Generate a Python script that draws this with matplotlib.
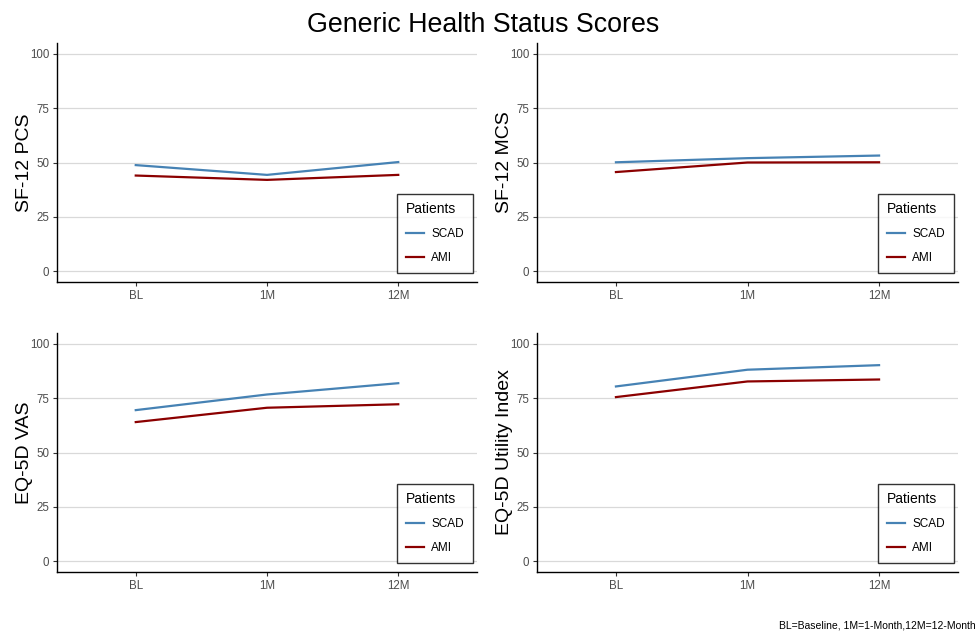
import matplotlib
matplotlib.use("Agg")
import matplotlib.pyplot as plt

plt.rcParams['font.family'] = ['Liberation Sans', 'DejaVu Sans']

timepoints = ["BL", "1M", "12M"]
panel_labels = ["SF-12 PCS", "SF-12 MCS", "EQ-5D VAS", "EQ-5D Utility Index"]
scad_pcs = [48.8, 44.3, 50.2]
ami_pcs = [44.0, 42.0, 44.3]
scad_mcs = [50.1, 52.0, 53.2]
ami_mcs = [45.6, 50.0, 50.1]
scad_vas = [69.5, 76.7, 81.9]
ami_vas = [64.0, 70.6, 72.2]
scad_util = [80.4, 88.1, 90.2]
ami_util = [75.5, 82.7, 83.6]
y_ticks = [0, 25, 50, 75, 100]

scad_color = "#4682B4"
ami_color = "#8B0000"

fig = plt.figure(figsize=(9.77, 6.35), dpi=100)
W, H = 977, 635
boxes = [
    (57, 43, 477, 282),
    (537, 43, 958, 282),
    (57, 333, 477, 572),
    (537, 333, 958, 572),
]
series = [(scad_pcs, ami_pcs), (scad_mcs, ami_mcs), (scad_vas, ami_vas), (scad_util, ami_util)]

for (l, t, r, b), label, (s, a) in zip(boxes, panel_labels, series):
    ax = fig.add_axes([l / W, 1 - b / H, (r - l) / W, (b - t) / H])
    x = list(range(1, len(timepoints) + 1))
    ax.plot(x, s, color=scad_color, lw=1.6, label="SCAD")
    ax.plot(x, a, color=ami_color, lw=1.6, label="AMI")
    ax.set_xlim(0.4, 3.6)
    ax.set_ylim(-5, 105)
    ax.set_xticks(x)
    ax.set_xticklabels(timepoints)
    ax.set_yticks(y_ticks)
    ax.yaxis.grid(True, color="#D9D9D9", lw=0.9)
    ax.set_axisbelow(True)
    for sp in ["top", "right"]:
        ax.spines[sp].set_visible(False)
    for sp in ["left", "bottom"]:
        ax.spines[sp].set_color("black")
        ax.spines[sp].set_linewidth(1.0)
    ax.tick_params(axis="both", length=3, width=0.8, color="#333333",
                   labelsize=8.3, labelcolor="#4D4D4D", pad=2.5)
    ax.set_ylabel(label, fontsize=14, labelpad=-2.0)
    leg = ax.legend(title="Patients", loc="lower right", fontsize=8.5,
                    title_fontsize=10, frameon=True, fancybox=False,
                    edgecolor="black", handlelength=1.55, handletextpad=0.6,
                    borderpad=0.75, labelspacing=1.0, borderaxespad=0,
                    bbox_to_anchor=(0.990, 0.038))
    leg.get_frame().set_linewidth(1.0)
    leg._legend_box.align = "left"

fig.text(483 / W, 1 - 25 / H, "Generic Health Status Scores", ha="center", va="center", fontsize=19.3)
fig.text(976 / W, 1 - 625 / H, "BL=Baseline, 1M=1-Month,12M=12-Month", ha="right", va="center", fontsize=7.5)

fig.savefig("out.png", dpi=100, facecolor="white")
